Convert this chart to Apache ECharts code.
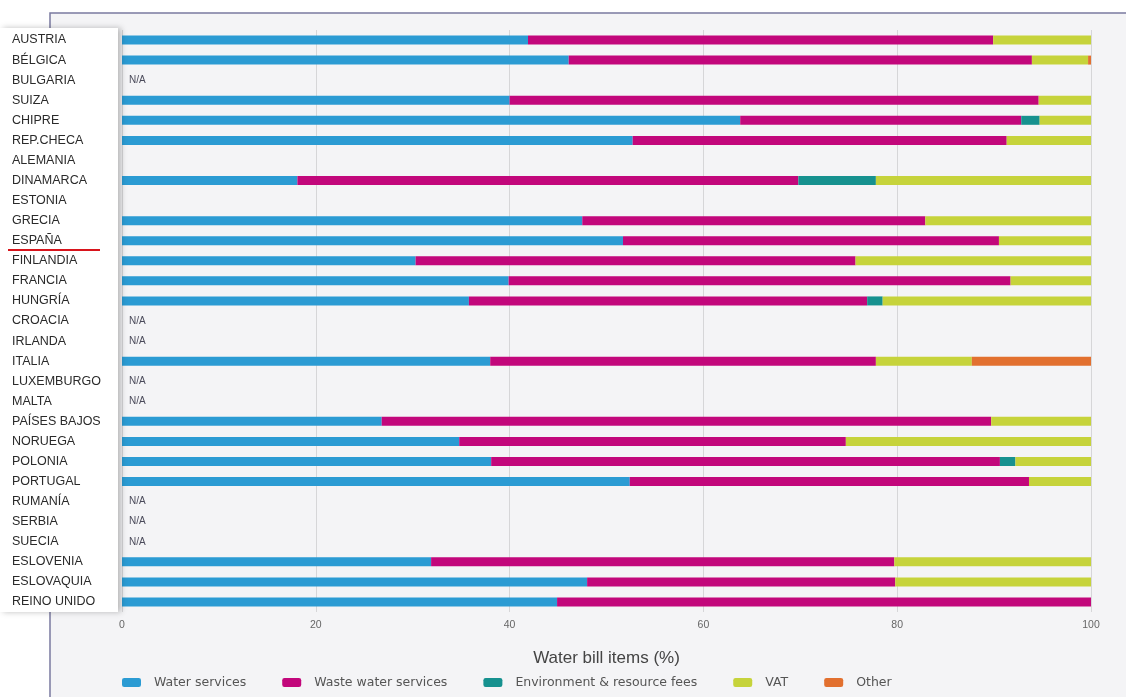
<!DOCTYPE html>
<html><head><meta charset="utf-8">
<script src="https://cdn.jsdelivr.net/npm/echarts@6/dist/echarts.min.js"></script>
<style>html,body{margin:0;padding:0;background:#fff}#c{width:1126px;height:697px}</style>
</head><body><div id="c"></div>
<script>
const categories = ['AUSTRIA','BÉLGICA','BULGARIA','SUIZA','CHIPRE','REP.CHECA','ALEMANIA','DINAMARCA','ESTONIA','GRECIA','ESPAÑA','FINLANDIA','FRANCIA','HUNGRÍA','CROACIA','IRLANDA','ITALIA','LUXEMBURGO','MALTA','PAÍSES BAJOS','NORUEGA','POLONIA','PORTUGAL','RUMANÍA','SERBIA','SUECIA','ESLOVENIA','ESLOVAQUIA','REINO UNIDO'];
const waterServices = [41.9,46.1,null,40.0,63.8,52.7,null,18.1,null,47.5,51.7,30.3,39.9,35.8,null,null,38.0,null,null,26.8,34.8,38.1,52.4,null,null,null,31.9,48.0,44.9];
const wasteWater    = [48.0,47.8,null,54.6,29.0,38.6,null,51.7,null,35.4,38.8,45.4,51.8,41.1,null,null,39.8,null,null,62.9,39.9,52.5,41.2,null,null,null,47.8,31.8,55.1];
const envFees       = [0,0,null,0,1.9,0,null,8.0,null,0,0,0,0,1.6,null,null,0,null,null,0,0,1.6,0,null,null,null,0,0,0];
const vat           = [10.1,5.8,null,5.4,5.3,8.7,null,22.2,null,17.1,9.5,24.3,8.3,21.5,null,null,9.9,null,null,10.3,25.3,7.8,6.4,null,null,null,20.3,20.2,0];
const other         = [0,0.3,null,0,0,0,null,0,null,0,0,0,0,0,null,null,12.3,null,null,0,0,0,0,null,null,null,0,0,0];
const naRows        = ['BULGARIA','CROACIA','IRLANDA','LUXEMBURGO','MALTA','RUMANÍA','SERBIA','SUECIA'];
const seriesNames = ['Water services','Waste water services','Environment & resource fees','VAT','Other'];
const colors = ['#2b9bd3','#c2077b','#16918f','#c6d33b','#e2702f'];

const chart = echarts.init(document.getElementById('c'));
const vals = [waterServices, wasteWater, envFees, vat, other];
const series = vals.map((d,i)=>({
  name: seriesNames[i], type:'bar', stack:'t', barWidth:9,
  itemStyle:{color:colors[i]}, data:d, silent:true
}));
series.push({
  name:'na', type:'bar', stack:'t', barWidth:9, silent:true,
  data: categories.map(c=> naRows.includes(c) ? 0 : null),
  label:{show:true, position:'right', offset:[2,0], formatter:'N/A', color:'#4a4a5a', fontSize:10, fontFamily:'Liberation Sans'}
});
chart.setOption({
  animation:false,
  backgroundColor:'#ffffff',
  graphic:[
    {type:'rect', z:-10, shape:{x:50,y:13,width:1080,height:690}, style:{fill:'#f4f4f6', stroke:'#7a7aa0', lineWidth:1.5}},
    {type:'rect', z:100, shape:{x:0,y:28,width:118,height:584}, style:{fill:'#ffffff', shadowBlur:6, shadowColor:'rgba(0,0,0,0.25)', shadowOffsetX:3}},
    {type:'line', z:102, shape:{x1:8,y1:250,x2:100,y2:250}, style:{stroke:'#d8141c', lineWidth:2}}
  ],
  grid:{left:122, right:35, top:30, height:582},
  legend:{
    data:seriesNames, bottom:3, left:117, itemWidth:19, itemHeight:9, itemGap:36,
    icon:'roundRect', textStyle:{fontSize:12.5, color:'#555', fontFamily:'DejaVu Sans', padding:[0,0,0,8]}
  },
  xAxis:{
    type:'value', min:0, max:100, interval:20,
    name:'Water bill items (%)', nameLocation:'middle', nameGap:38,
    nameTextStyle:{fontSize:17, color:'#444', fontFamily:'Liberation Sans'},
    axisLine:{show:false}, axisTick:{show:false},
    axisLabel:{color:'#666', fontSize:10.5, margin:8, fontFamily:'Liberation Sans'},
    splitLine:{lineStyle:{color:'#d6d6d8'}}
  },
  yAxis:{
    type:'category', data:categories, inverse:true,
    axisLine:{show:false}, axisTick:{show:false},
    axisLabel:{align:'left', margin:110, color:'#2a2a2a', fontSize:12.5, fontFamily:'Liberation Sans', padding:[4,0,0,0]},
    z:110
  },
  series:series
});
</script></body></html>
